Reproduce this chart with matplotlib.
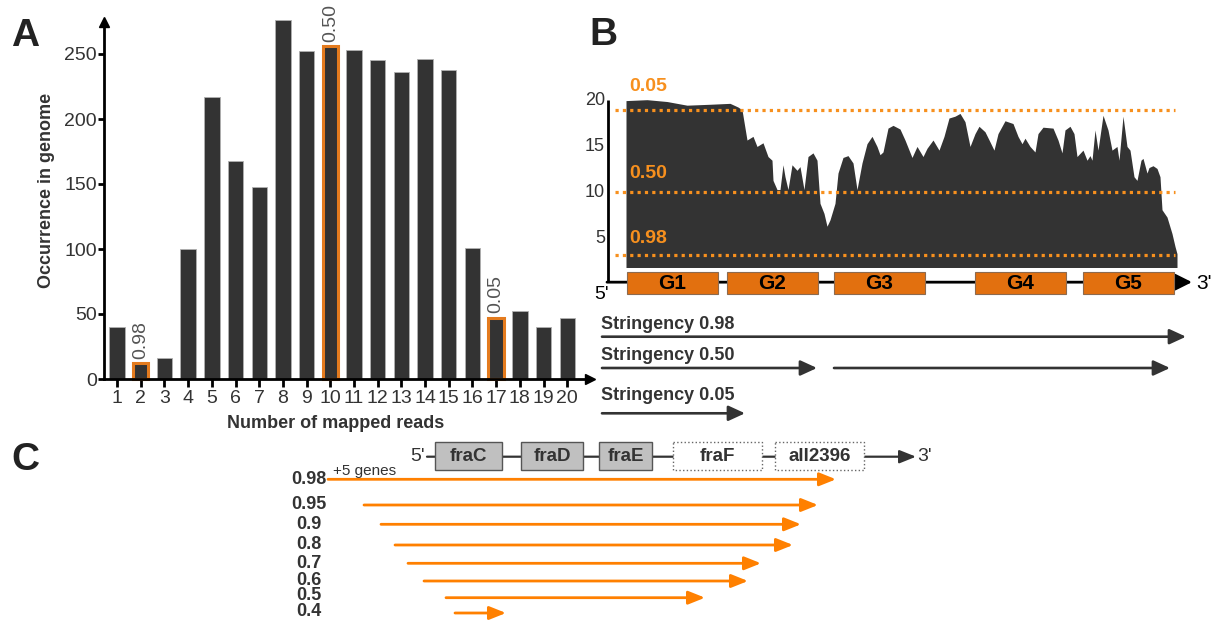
import matplotlib
matplotlib.use('Agg')
import matplotlib.pyplot as plt
from matplotlib.patches import Rectangle

plt.rcParams['font.family'] = ['Liberation Sans', 'DejaVu Sans']

W, H = 1211, 620
DARK = '#333333'
ORANGE = '#f7901e'
GENE_ORANGE = '#e2700f'
C_ORANGE = '#ff8000'

# ---- panel A: histogram of mapped reads
reads = list(range(1, 21))
occurrence = [40, 12, 16, 100, 217, 168, 148, 276, 252, 256,
              253, 245, 236, 246, 238, 101, 47, 52, 40, 47]
marked = {2: '0.98', 10: '0.50', 17: '0.05'}

# ---- panel B: coverage profile over the operon
cov_pos = [0, 21, 41, 61, 84, 104, 112, 116, 121, 127, 131, 137, 142, 146,
           147, 151, 154, 157, 159, 162, 166, 171, 174, 178, 182, 187, 191,
           194, 198, 201, 204, 209, 212, 217, 222, 227, 231, 236, 241, 246,
           251, 254, 257, 262, 267, 274, 279, 286, 291, 297, 301, 307, 313,
           318, 323, 329, 334, 339, 344, 349, 353, 359, 364, 368, 372, 379,
           387, 392, 396, 399, 404, 409, 412, 417, 427, 432, 436, 439, 444,
           448, 451, 457, 461, 464, 466, 469, 472, 477, 482, 486, 491, 493,
           497, 501, 504, 508, 511, 515, 517, 521, 523, 527, 531, 534, 536,
           541, 546, 549, 551]
cov_val = [20.0, 20.1, 19.9, 19.5, 19.6, 19.7, 19.3, 19.0, 15.7, 16.1, 15.0,
           15.4, 13.9, 13.5, 11.3, 10.3, 10.3, 13.0, 11.7, 10.3, 13.0, 12.4,
           12.8, 10.3, 13.9, 14.3, 13.5, 8.8, 7.7, 6.3, 7.0, 8.8, 12.1, 13.8,
           14.0, 13.2, 10.3, 13.2, 15.3, 16.1, 15.0, 14.1, 14.4, 17.0, 17.3,
           16.9, 15.7, 13.8, 15.0, 13.9, 14.8, 15.7, 14.6, 16.1, 18.1, 18.3,
           18.6, 17.7, 15.0, 16.4, 17.2, 16.6, 15.5, 14.6, 16.4, 17.8, 17.5,
           16.1, 15.3, 15.9, 15.0, 14.4, 16.4, 17.1, 17.0, 15.7, 14.3, 16.8,
           17.2, 16.4, 13.9, 14.6, 13.5, 14.0, 13.5, 16.8, 14.6, 18.4, 16.8,
           14.6, 15.0, 13.5, 18.3, 15.0, 14.6, 11.7, 11.3, 13.5, 13.7, 12.1,
           12.7, 12.9, 12.6, 11.7, 8.1, 7.3, 5.5, 4.1, 3.3]
cov_base = 1.8
thresholds = [19.0, 10.0, 3.2]
threshold_labels = ['0.05', '0.50', '0.98']
b_ticks = [5, 10, 15, 20]
genes_b = ['G1', 'G2', 'G3', 'G4', 'G5']
genes_b_start = [1, 101, 208, 349, 457]
genes_b_end = [92, 192, 299, 440, 548]
stringency = ['0.98', '0.50', '0.05']
stringency_segments = [[(-24, 560)], [(-24, 191), (208, 544)], [(-24, 119)]]

# ---- panel C: fra operon transcripts
genes_c = ['fraC', 'fraD', 'fraE', 'fraF', 'all2396']
genes_c_start = [435, 521, 599, 673, 775]
genes_c_end = [502, 583, 652, 762, 864]
genes_c_known = [True, True, True, False, False]
c_levels = ['0.98', '0.95', '0.9', '0.8', '0.7', '0.6', '0.5', '0.4']
c_start = [328, 364, 381, 395, 408, 424, 446, 455]
c_end = [836, 818, 801, 793, 761, 748, 705, 506]


fig = plt.figure(figsize=(W / 100, H / 100), dpi=100)


def px_axes(x0, y0, x1, y1):
    return fig.add_axes([x0 / W, 1 - y1 / H, (x1 - x0) / W, (y1 - y0) / H])


def arrow(ax, x0, y0, x1, y1, color, lw, hl, hw):
    ax.annotate('', xy=(x1, y1), xytext=(x0, y0),
                arrowprops=dict(arrowstyle=f'-|>,head_length={hl},head_width={hw}',
                                color=color, lw=lw, mutation_scale=20,
                                shrinkA=0, shrinkB=0), annotation_clip=False)


## PANEL A
ax = px_axes(104, 22, 590, 379)
bars = ax.bar(reads, occurrence, width=0.65, color=DARK, edgecolor='#b0b0b0',
              linewidth=0.6, clip_on=False, zorder=2)
for r, lab in marked.items():
    bars[r - 1].set_edgecolor('#e47b1e')
    bars[r - 1].set_linewidth(2.2)
    ax.text(r, occurrence[r - 1] + 3.5, lab, rotation=90, ha='center', va='bottom',
            fontsize=14, color='#555555')
ax.set_xlim(0.45, 20.96)
ax.set_ylim(0, (379 - 22) / 1.3)
ax.set_xticks(reads)
ax.set_yticks([0, 50, 100, 150, 200, 250])
ax.tick_params(axis='x', direction='out', length=6, width=2, labelsize=14, pad=2,
               labelcolor=DARK)
ax.tick_params(axis='y', direction='out', length=4, width=2, labelsize=14, pad=1,
               labelcolor=DARK)
for s in ['top', 'right']:
    ax.spines[s].set_visible(False)
for s in ['left', 'bottom']:
    ax.spines[s].set_linewidth(2)
ax.plot([0], [1], marker='^', ms=7, color='black', transform=ax.transAxes, clip_on=False)
ax.plot([1], [0], marker='>', ms=7, color='black', transform=ax.transAxes, clip_on=False)
fig.text(336 / W, 1 - 424 / H, 'Number of mapped reads', ha='center', va='center',
         fontsize=13, fontweight='bold', color=DARK)
fig.text(47 / W, 1 - 190 / H, 'Occurrence in genome', ha='center', va='center',
         rotation=90, fontsize=13, fontweight='bold', color=DARK)

## PANEL B
axb = px_axes(600, 80, 1211, 300)
axb.set_xlim(-26, 585)
axb.set_ylim((284 - 300) / 9.17, (284 - 80) / 9.17)
axb.axis('off')
axb.fill_between(cov_pos, cov_base, cov_val, color=DARK, lw=0, zorder=1)
label_v = [21.5, 12.1, 5.0]
for t, lab, lv in zip(thresholds, threshold_labels, label_v):
    axb.plot([-11, 549], [t, t], color=ORANGE, lw=2.3, linestyle=(0, (1, 1.3)),
             solid_capstyle='butt', zorder=3)
    axb.text(3, lv, lab, ha='left', va='center', fontsize=14, fontweight='bold',
             color=ORANGE)
for v in b_ticks:
    axb.text(-21, v, str(v), ha='right', va='center', fontsize=13, color=DARK)
axb.plot([-18, -18], [0.2, 20.1], color='black', lw=2, solid_capstyle='butt')
arrow(axb, -19, 0.2, 566, 0.2, 'black', 2, 0.5, 0.25)
for g, s, e in zip(genes_b, genes_b_start, genes_b_end):
    axb.add_patch(Rectangle((s, -1.1), e - s, 2.45, fc=GENE_ORANGE, ec='#8c6a4f',
                            lw=0.8, zorder=4))
    axb.text((s + e) / 2, 0.1, g, ha='center', va='center', fontsize=15,
             fontweight='bold', color='black', zorder=5)
axb.text(-24, -1.1, "5'", ha='center', va='center', fontsize=14, color='black')
axb.text(570, 0.1, "3'", ha='left', va='center', fontsize=15, color='black')

axs = px_axes(600, 300, 1211, 430)
axs.set_xlim(-26, 585)
axs.set_ylim(430, 300)
axs.axis('off')
text_y = [325, 356, 395]
arrow_y = [336.7, 368, 413.3]
for lab, segs, ty, ay in zip(stringency, stringency_segments, text_y, arrow_y):
    axs.text(-25, ty, 'Stringency ' + lab, ha='left', va='center', fontsize=13,
             fontweight='bold', color=DARK)
    for s, e in segs:
        arrow(axs, s, ay, e, ay, DARK, 1.9, 0.5, 0.23)

## PANEL C
axc = px_axes(250, 435, 950, 620)
axc.set_xlim(250, 950)
axc.set_ylim(620, 435)
axc.axis('off')
row_y = 456.7
arrow(axc, 427, row_y, 916, row_y, DARK, 1.6, 0.5, 0.2)
for g, s, e, known in zip(genes_c, genes_c_start, genes_c_end, genes_c_known):
    if known:
        axc.add_patch(Rectangle((s, 441.7), e - s, 28.3, fc='#c0c0c0', ec='#555555',
                                lw=1, zorder=4))
    else:
        axc.add_patch(Rectangle((s, 441.7), e - s, 28.3, fc='white', ec='#666666',
                                lw=1, ls=':', zorder=4))
    axc.text((s + e) / 2, row_y, g, ha='center', va='center', fontsize=13.5,
             fontweight='bold', color=DARK, zorder=5)
axc.text(425, row_y, "5'", ha='right', va='center', fontsize=14, color=DARK)
axc.text(917, row_y, "3'", ha='left', va='center', fontsize=14, color=DARK)

c_rows = [479.3, 505, 524.3, 545, 563.3, 581, 597.7, 613]
label_y = [479.3, 505, 524.3, 545, 563.3, 580.5, 596, 611.5]
for lab, s, e, y, ly in zip(c_levels, c_start, c_end, c_rows, label_y):
    arrow(axc, s, y, e, y, C_ORANGE, 2, 0.5, 0.2)
    axc.text(309, ly, lab, ha='center', va='center', fontsize=13, fontweight='bold',
             color=DARK)
axc.text(333, 471, '+5 genes', ha='left', va='center', fontsize=11, color=DARK)

## panel letters
for lab, x, y in [('A', 25, 35.5), ('B', 603, 35), ('C', 25, 460)]:
    fig.text(x / W, 1 - y / H, lab, ha='center', va='center', fontsize=28,
             fontweight='bold', color='#222222')

fig.savefig('out.png', dpi=100)
